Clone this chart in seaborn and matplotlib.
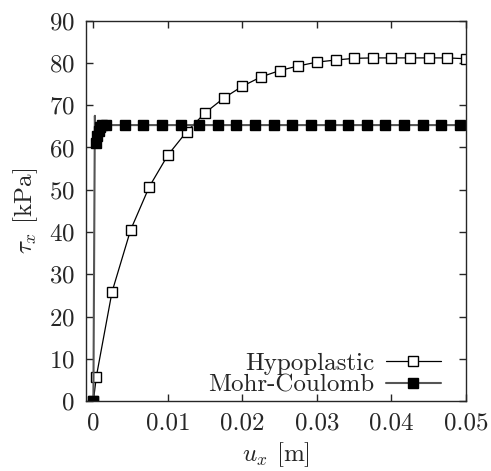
import numpy as np
import pandas as pd
import seaborn as sns
import matplotlib.pyplot as plt

# displacement u_x [m] and shear stress tau_x [kPa]
hypo_ux = [0.0, 0.0004, 0.0025, 0.005, 0.0075, 0.01, 0.0125, 0.015, 0.0175, 0.02,
           0.0225, 0.025, 0.0275, 0.03, 0.0325, 0.035, 0.0375, 0.04, 0.0425,
           0.045, 0.0475, 0.05]
hypo_tau = [0.0, 5.8, 25.8, 40.5, 50.7, 58.2, 63.7, 68.2, 71.7, 74.5,
            76.7, 78.2, 79.3, 80.2, 80.7, 81.1, 81.2, 81.2, 81.2,
            81.2, 81.2, 81.0]

mc_ux = [0.0, 0.0002, 0.0003, 0.0005, 0.0007, 0.0009, 0.0012,
         0.0017, 0.0042, 0.0067, 0.0092, 0.0117, 0.0142, 0.0167, 0.0192,
         0.0217, 0.0242, 0.0267, 0.0292, 0.0317, 0.0342, 0.0367, 0.0392,
         0.0417, 0.0442, 0.0467, 0.0492]
mc_tau = [0.0, 67.5, 61.0, 62.6, 63.9, 64.8, 65.3,
          65.3, 65.3, 65.3, 65.3, 65.3, 65.3, 65.3, 65.3,
          65.3, 65.3, 65.3, 65.3, 65.3, 65.3, 65.3, 65.3,
          65.3, 65.3, 65.3, 65.3]

sns.set_style('ticks')
plt.rcParams['font.family'] = ['cmr10', 'DejaVu Serif']
plt.rcParams['mathtext.fontset'] = 'cm'
plt.rcParams['axes.formatter.use_mathtext'] = True
plt.rcParams['font.size'] = 18

fig = plt.figure(figsize=(4.91, 4.71), dpi=100)
ax = fig.add_axes([0.175, 0.1486, 0.774, 0.8074])

df_hypo = pd.DataFrame({'ux': hypo_ux, 'tau': hypo_tau})
df_mc = pd.DataFrame({'ux': mc_ux, 'tau': mc_tau})

sns.lineplot(data=df_hypo, x='ux', y='tau', ax=ax, color='black', lw=0.9,
             marker='s', markersize=6.5, markerfacecolor='white',
             markeredgecolor='black', markeredgewidth=1.0,
             label='Hypoplastic', sort=False)
# the overshoot peak is drawn as line only, no marker
mc_marks = [i for i in range(len(mc_ux)) if i != 1]
sns.lineplot(data=df_mc, x='ux', y='tau', ax=ax, color='#555555', lw=1.5,
             marker='s', markersize=6.5, markerfacecolor='black',
             markeredgecolor='black', markeredgewidth=1.0,
             markevery=mc_marks, label='Mohr-Coulomb', sort=False)

ax.set_xlim(-0.001, 0.05)
ax.set_ylim(0, 90)
ax.set_xticks([0, 0.01, 0.02, 0.03, 0.04, 0.05])
ax.set_xticklabels(['0', '0.01', '0.02', '0.03', '0.04', '0.05'])
ax.set_yticks(range(0, 91, 10))
ax.tick_params(direction='in', top=True, right=True, length=5, width=1, pad=8)
for s in ax.spines.values():
    s.set_linewidth(1.0)
    s.set_visible(True)

ax.set_xlabel(r'$u_x$ [m]', labelpad=4)
ax.set_ylabel(r'$\tau_x$ [kPa]', labelpad=6)

leg = ax.legend(loc='lower right', bbox_to_anchor=(0.934, 0.012), frameon=False,
                markerfirst=False, handlelength=2.2, handletextpad=0.45,
                labelspacing=-0.05, borderpad=0, borderaxespad=0, fontsize=18)

fig.savefig('out.png', dpi=100)
